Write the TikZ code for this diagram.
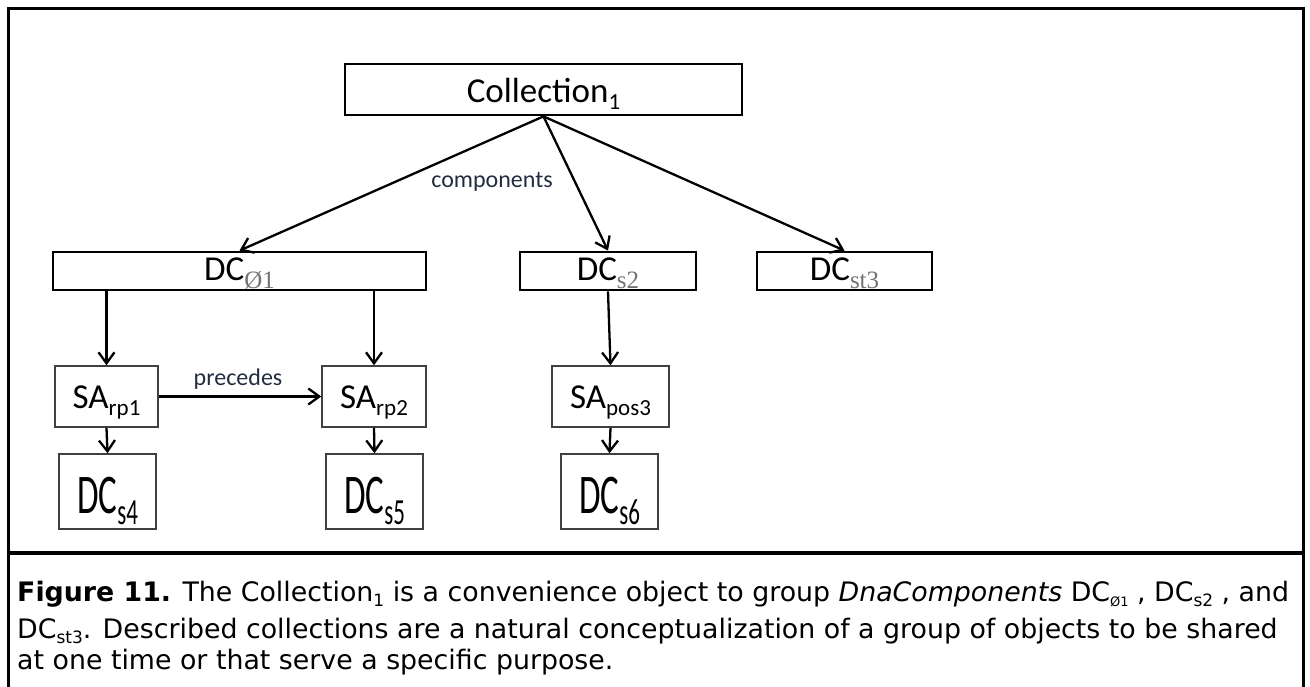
\documentclass[tikz,border=0pt]{standalone}
\usepackage{fontspec}
\setmainfont{Carlito}
\newfontfamily\capfont{DejaVu Sans}
\newfontfamily\serfont{Liberation Serif}
\usetikzlibrary{arrows.meta}
\definecolor{lblcol}{RGB}{35,45,65}
\newcommand\nsub[1]{\raisebox{-7pt}{\fontsize{23}{23}\selectfont #1}}
\newcommand\gsub[1]{\raisebox{-8pt}{\fontsize{25}{25}\serfont\color{black!55}#1}}
\newcommand\csub[1]{\raisebox{-5pt}{\fontsize{17}{17}\selectfont #1}}
\newcommand\csubs[1]{\raisebox{-5pt}{\fontsize{13}{13}\selectfont #1}}
\newcommand\tallt[1]{\scalebox{1}[1.6]{#1}}
\tikzset{
  nodetext/.style={font=\fontsize{35}{35}\selectfont, inner sep=0pt},
  thickbox/.style={nodetext, draw, line width=2.8pt},
  thinbox/.style={nodetext, draw=black!75, line width=1.5pt},
  arr/.style={line width=2.3pt, -{Straight Barb[length=11pt,width=16pt]}},
  lbl/.style={font=\fontsize{24}{24}\selectfont, text=lblcol, inner sep=0pt},
  capline/.style={font=\capfont\fontsize{26.8}{26.8}\selectfont, anchor=base west, inner sep=0pt},
  frameline/.style={line width=3.5pt}
}
\begin{document}
\begin{tikzpicture}[x=1pt,y=-1pt]
\useasboundingbox (0,0) rectangle (1310,687);
% frame
\draw[frameline] (8.5,687) -- (8.5,8.5) -- (1303.5,8.5) -- (1303.5,687);
\draw[frameline] (8.5,553) -- (1303.5,553);
% nodes
\node[thickbox, minimum width=397pt, minimum height=51pt, text height=27pt, text depth=0pt] (coll) at (543.5,89.5) {Collection\nsub{1}};
\node[thickbox, minimum width=373pt, minimum height=38pt, text height=22pt, text depth=2pt] (dc1) at (239.5,271) {DC\gsub{Ø1}};
\node[thickbox, minimum width=176pt, minimum height=38pt, text height=22pt, text depth=2pt] (dc2) at (608,271) {DC\gsub{s2}};
\node[thickbox, minimum width=175pt, minimum height=38pt, text height=22pt, text depth=2pt] (dc3) at (844.5,271) {DC\gsub{st3}};
\node[thinbox, minimum width=103pt, minimum height=61pt, text height=24pt, text depth=1pt] (sa1) at (106.5,396.5) {SA\nsub{rp1}};
\node[thinbox, minimum width=104pt, minimum height=61pt, text height=24pt, text depth=1pt] (sa2) at (374,396.5) {SA\nsub{rp2}};
\node[thinbox, minimum width=117pt, minimum height=61pt, text height=24pt, text depth=1pt] (sa3) at (610.5,396.5) {SA\nsub{pos3}};
\node[thinbox, minimum width=97pt, minimum height=75pt, text height=43pt, text depth=0pt] (dc4) at (107.5,491.5) {\tallt{DC\nsub{s4}}};
\node[thinbox, minimum width=97pt, minimum height=75pt, text height=43pt, text depth=0pt] (dc5) at (374.5,491.5) {\tallt{DC\nsub{s5}}};
\node[thinbox, minimum width=97pt, minimum height=75pt, text height=43pt, text depth=0pt] (dc6) at (609.5,491.5) {\tallt{DC\nsub{s6}}};
% connectors
\draw[arr] (coll.south) -- (dc1.north);
\draw[arr] (coll.south) -- (dc2.north);
\draw[arr] (coll.south) -- (dc3.north);
\draw[arr] (sa1.north |- dc1.south) -- (sa1.north);
\draw[arr] (sa2.north |- dc1.south) -- (sa2.north);
\draw[arr] (dc2.south) -- (sa3.north);
\draw[arr] (sa1.east) -- (sa2.west);
\draw[arr] (sa1.south) -- (dc4.north);
\draw[arr] (sa2.south) -- (dc5.north);
\draw[arr] (sa3.south) -- (dc6.north);
% labels
\node[lbl] (complbl) at (492,182) {components};
\node[lbl] (preclbl) at (238,379) {precedes};
% caption
\node[capline] (cap1) at (17,601) {\textbf{Figure 11.} The Collection\csub{1} is a convenience object to group \textit{DnaComponents} DC\csubs{Ø1} , DC\csub{s2} , and};
\node[capline] (cap2) at (17,638) {DC\csub{st3}. Described collections are a natural conceptualization of a group of objects to be shared};
\node[capline] (cap3) at (17,669) {at one time or that serve a specific purpose.};
\end{tikzpicture}
\end{document}
